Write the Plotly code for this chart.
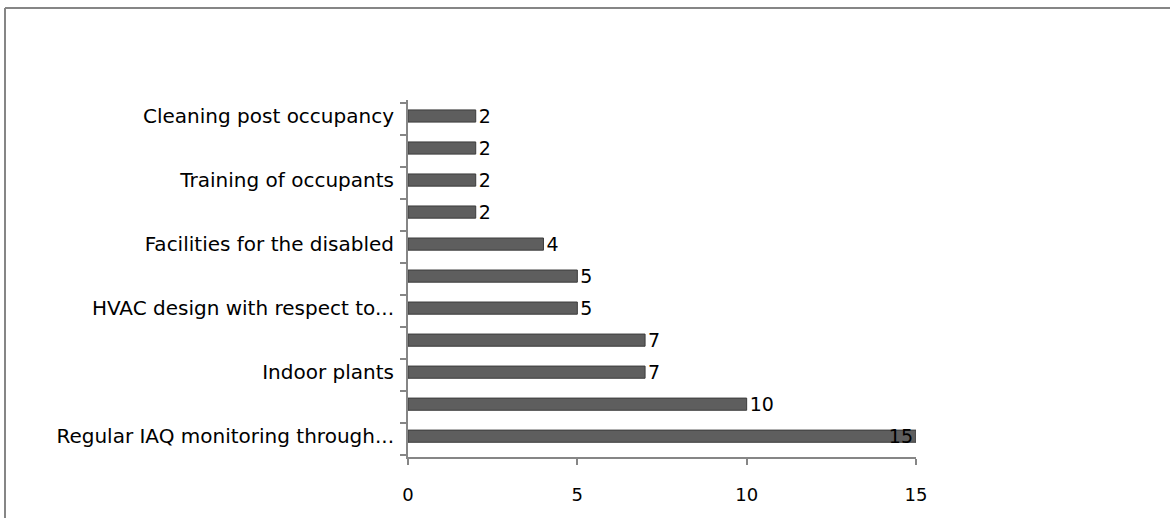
import plotly.graph_objects as go

# Data (bottom to top)
positions = list(range(11))
values = [15, 10, 7, 7, 5, 5, 4, 2, 2, 2, 2]
label_positions = [0, 2, 4, 6, 8, 10]
label_texts = [
    "Regular IAQ monitoring through...",
    "Indoor plants",
    "HVAC design with respect to...",
    "Facilities for the disabled",
    "Training of occupants",
    "Cleaning post occupancy",
]
boundaries = [i - 0.59 for i in range(12)]
x_ticks = [0, 5, 10, 15]

FONT = "DejaVu Sans"

textpos = ["inside" if v >= 15 else "outside" for v in values]

fig = go.Figure()
fig.add_trace(go.Bar(
    x=values,
    y=positions,
    orientation="h",
    width=0.38,
    marker=dict(color="#5e5e5e", line=dict(color="#3c3c3c", width=1)),
    text=[str(v) for v in values],
    textposition=textpos,
    textangle=0,
    insidetextanchor="end",
    constraintext="none",
    textfont=dict(family=FONT, size=19, color="black"),
    insidetextfont=dict(family=FONT, size=19, color="black"),
    outsidetextfont=dict(family=FONT, size=19, color="black"),
    cliponaxis=False,
    hoverinfo="x+y",
))

fig.update_layout(
    width=1170,
    height=518,
    margin=dict(l=408, r=254, t=100, b=61),
    paper_bgcolor="white",
    plot_bgcolor="white",
    showlegend=False,
    font=dict(family=FONT, size=18, color="black"),
    xaxis=dict(
        range=[0, 15],
        tickvals=x_ticks,
        ticks="outside",
        ticklen=6,
        tickwidth=2,
        tickcolor="#868686",
        showline=True,
        linecolor="#868686",
        linewidth=2,
        showgrid=False,
        zeroline=False,
        ticklabelstandoff=14,
        tickfont=dict(family=FONT, size=18, color="black"),
    ),
    yaxis=dict(
        range=[-0.65, 10.5],
        tickmode="array",
        tickvals=label_positions,
        ticktext=label_texts,
        ticks="",
        ticklabelstandoff=8,
        showline=True,
        linecolor="#868686",
        linewidth=2,
        showgrid=False,
        zeroline=False,
        tickfont=dict(family=FONT, size=20, color="black"),
        minor=dict(
            tickmode="array",
            tickvals=boundaries,
            ticks="outside",
            ticklen=6,
            tickwidth=2,
            tickcolor="#868686",
            showgrid=False,
        ),
    ),
    shapes=[
        dict(type="line", xref="paper", yref="paper",
             x0=(5 - 408) / 508, x1=(1170 - 408) / 508,
             y0=(457 - 8) / 357, y1=(457 - 8) / 357,
             line=dict(color="#868686", width=2)),
        dict(type="line", xref="paper", yref="paper",
             x0=(5 - 408) / 508, x1=(5 - 408) / 508,
             y0=(457 - 8) / 357, y1=(457 - 530) / 357,
             line=dict(color="#868686", width=2)),
    ],
)

fig.write_html("out.html")
